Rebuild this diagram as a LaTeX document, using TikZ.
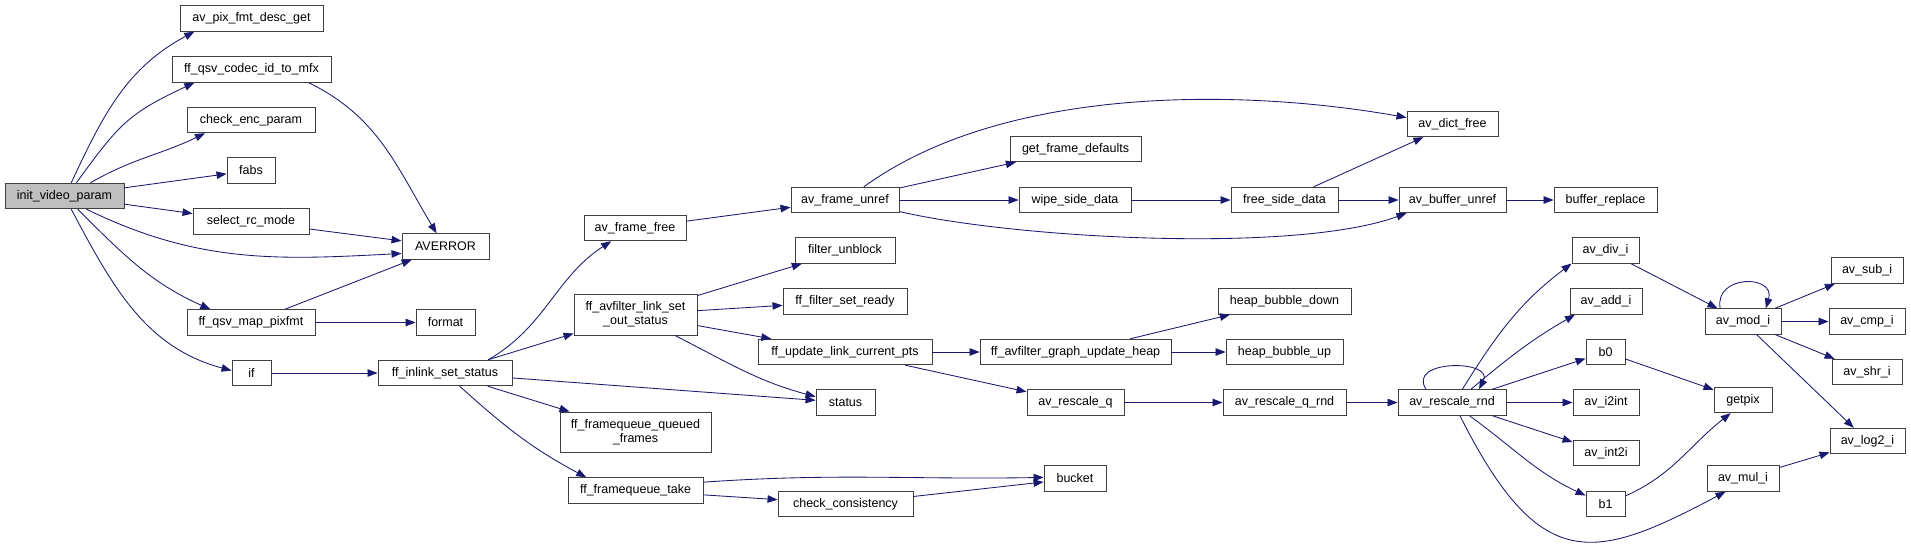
\documentclass[tikz,border=0pt]{standalone}
\usepackage{fontspec}
\setmainfont{Liberation Sans}
\usetikzlibrary{arrows.meta}
\definecolor{callblue}{HTML}{191970}

\begin{document}
\begin{tikzpicture}[
  x=1pt, y=1pt,
  every node/.style={font=\fontsize{12.5}{14}\selectfont},
  fn/.style={draw=black!75, line width=0.9pt, fill=white, rectangle,
             minimum height=25.5pt, inner xsep=2pt, inner ysep=2pt,
             align=center},
  call/.style={draw=callblue, line width=0.85pt,
               -{Triangle[length=10pt,width=7.5pt]}}
]
  \path[use as bounding box, fill=white] (0,0) rectangle (1911,-547);

  \node[fn, minimum width=119, fill=black!25] (ivp) at (64.5,-196)  {init\_video\_param};
  \node[fn, minimum width=143] (apfdg)  at (251.5,-18.5)  {av\_pix\_fmt\_desc\_get};
  \node[fn, minimum width=159] (fqcitm) at (251.5,-69.5)  {ff\_qsv\_codec\_id\_to\_mfx};
  \node[fn, minimum width=128] (cep)    at (251,-120)     {check\_enc\_param};
  \node[fn, minimum width=48]  (fabs)   at (251,-170.5)   {fabs};
  \node[fn, minimum width=116] (src)    at (251,-221.5)   {select\_rc\_mode};
  \node[fn, minimum width=87]  (averror) at (445.5,-246.5) {AVERROR};
  \node[fn, minimum width=128] (fqmp)   at (251,-322.5)   {ff\_qsv\_map\_pixfmt};
  \node[fn, minimum width=59]  (format) at (445.5,-322.5) {format};
  \node[fn, minimum width=39]  (ifblk)  at (251.5,-373)   {if};
  \node[fn, minimum width=134] (fiss)   at (445,-373)     {ff\_inlink\_set\_status};

  \node[fn, minimum width=102] (afree)  at (635,-228)     {av\_frame\_free};
  \node[fn, minimum width=123, minimum height=41] (flsos) at (635.5,-314.5) {ff\_avfilter\_link\_set\\\_out\_status};
  \node[fn, minimum width=151, minimum height=40] (fqqf)  at (635.5,-432)   {ff\_framequeue\_queued\\\_frames};
  \node[fn, minimum width=135] (fft)    at (635.5,-490.5) {ff\_framequeue\_take};

  \node[fn, minimum width=108] (afu)    at (845,-200)     {av\_frame\_unref};
  \node[fn, minimum width=100] (fub)    at (845,-250.5)   {filter\_unblock};
  \node[fn, minimum width=124] (ffsr)   at (845,-301.5)   {ff\_filter\_set\_ready};
  \node[fn, minimum width=174] (fulcp)  at (845,-352)     {ff\_update\_link\_current\_pts};
  \node[fn, minimum width=59]  (status) at (845.5,-402.5) {status};
  \node[fn, minimum width=135] (cc)     at (845.5,-504)   {check\_consistency};

  \node[fn, minimum width=131] (gfd)    at (1075.5,-149)  {get\_frame\_defaults};
  \node[fn, minimum width=112] (wsd)    at (1075,-200)    {wipe\_side\_data};
  \node[fn, minimum width=191] (fagu)   at (1075.5,-352)  {ff\_avfilter\_graph\_update\_heap};
  \node[fn, minimum width=97]  (arq)    at (1075.5,-402.5) {av\_rescale\_q};
  \node[fn, minimum width=62]  (bucket) at (1075,-478.5)  {bucket};

  \node[fn, minimum width=107] (fsd)    at (1284.5,-200)  {free\_side\_data};
  \node[fn, minimum width=133] (hbd)    at (1284.5,-301.5) {heap\_bubble\_down};
  \node[fn, minimum width=117] (hbu)    at (1284.5,-352)  {heap\_bubble\_up};
  \node[fn, minimum width=123] (arqr)   at (1284.5,-402.5) {av\_rescale\_q\_rnd};

  \node[fn, minimum width=91]  (adf)    at (1452.5,-124)  {av\_dict\_free};
  \node[fn, minimum width=107] (abu)    at (1452.5,-200)  {av\_buffer\_unref};
  \node[fn, minimum width=108] (arr)    at (1452,-402.5)  {av\_rescale\_rnd};

  \node[fn, minimum width=103] (bre)    at (1605.5,-200)  {buffer\_replace};
  \node[fn, minimum width=67]  (adi)    at (1605.5,-250.5) {av\_div\_i};
  \node[fn, minimum width=72]  (aai)    at (1606,-301.5)  {av\_add\_i};
  \node[fn, minimum width=39]  (bzero)  at (1605.5,-352)  {b0};
  \node[fn, minimum width=66]  (ai2i)   at (1606,-402.5)  {av\_i2int};
  \node[fn, minimum width=66]  (aint2i) at (1606,-453)    {av\_int2i};
  \node[fn, minimum width=39]  (bone)   at (1605.5,-504)  {b1};

  \node[fn, minimum width=76]  (amod)   at (1743,-321.5)  {av\_mod\_i};
  \node[fn, minimum width=58]  (getpix) at (1743,-400)    {getpix};
  \node[fn, minimum width=72]  (amul)   at (1743,-478.5)  {av\_mul\_i};

  \node[fn, minimum width=72]  (asub)   at (1867,-270.5)  {av\_sub\_i};
  \node[fn, minimum width=76]  (acmp)   at (1867,-321.5)  {av\_cmp\_i};
  \node[fn, minimum width=70]  (ashr)   at (1867,-372)    {av\_shr\_i};
  \node[fn, minimum width=75]  (alog)   at (1867.5,-441)  {av\_log2\_i};

  \draw[call] (ivp.63) to[out=65,in=208] (apfdg.193);
  \draw[call] (ivp.48) to[out=54,in=205,looseness=1.2] (fqcitm.193);
  \draw[call] (ivp.27) to[out=30,in=206] (cep.196);
  \draw[call] (ivp) -- (fabs);
  \draw[call] (ivp) -- (src);
  \draw[call] (ivp.-31) to[out=-26,in=183] (averror.189);
  \draw[call] (ivp.-45) to[out=-45,in=156] (fqmp.162);
  \draw[call] (ivp.-63) to[out=-62,in=165] (ifblk.173);
  \draw[call] (fqcitm.-13) to[out=-26,in=121] (averror.124);
  \draw[call] (src) -- (averror);
  \draw[call] (fqmp) -- (averror);
  \draw[call] (fqmp) -- (format);
  \draw[call] (ifblk) -- (fiss);

  \draw[call] (fiss.17) to[out=30,in=213] (afree.209);
  \draw[call] (fiss) -- (flsos);
  \draw[call] (fiss) -- (status);
  \draw[call] (fiss) -- (fqqf);
  \draw[call] (fiss.-42) to[out=-42,in=152] (fft.165);

  \draw[call] (afree) -- (afu);
  \draw[call] (afu.35) to[out=36,in=170,looseness=0.8] (adf.172);
  \draw[call] (afu) -- (gfd);
  \draw[call] (afu) -- (wsd);
  \draw[call] (afu.-12) to[out=-13,in=200,looseness=0.6] (abu.196);
  \draw[call] (wsd) -- (fsd);
  \draw[call] (fsd) -- (adf);
  \draw[call] (fsd) -- (abu);
  \draw[call] (abu) -- (bre);

  \draw[call] (flsos) -- (fub);
  \draw[call] (flsos) -- (ffsr);
  \draw[call] (flsos) -- (fulcp);
  \draw[call] (flsos.-28) to[out=-27,in=165] (status.169);
  \draw[call] (fulcp) -- (fagu);
  \draw[call] (fulcp) -- (arq);
  \draw[call] (fagu) -- (hbd);
  \draw[call] (fagu) -- (hbu);
  \draw[call] (arq) -- (arqr);
  \draw[call] (arqr) -- (arr);

  \draw[call] (fft.7) to[out=4,in=181] (bucket.178);
  \draw[call] (fft) -- (cc);
  \draw[call] (cc) -- (bucket);

  \draw[call] (arr.153) .. controls +(-20,30) and +(15,30) .. (arr.26);
  \draw[call] (arr.52) to[out=58,in=217] (adi.201);
  \draw[call] (arr.35) to[out=40,in=210] (aai.203);
  \draw[call] (arr) -- (bzero);
  \draw[call] (arr) -- (ai2i);
  \draw[call] (arr) -- (aint2i);
  \draw[call] (arr.-37) to[out=-36,in=155] (bone.157);
  \draw[call] (arr.-59) .. controls +(80,-159) and +(-132.5,-70.4) .. (amul.217);

  \draw[call] (adi) -- (amod);
  \draw[call] (amod.150) .. controls +(-6,34) and +(10,34) .. (amod.30);
  \draw[call] (amod) -- (asub);
  \draw[call] (amod) -- (acmp);
  \draw[call] (amod) -- (ashr);
  \draw[call] (amod) -- (alog);
  \draw[call] (bzero) -- (getpix);
  \draw[call] (bone.22) to[out=24,in=218] (getpix.227);
  \draw[call] (amul) -- (alog);
\end{tikzpicture}
\end{document}
